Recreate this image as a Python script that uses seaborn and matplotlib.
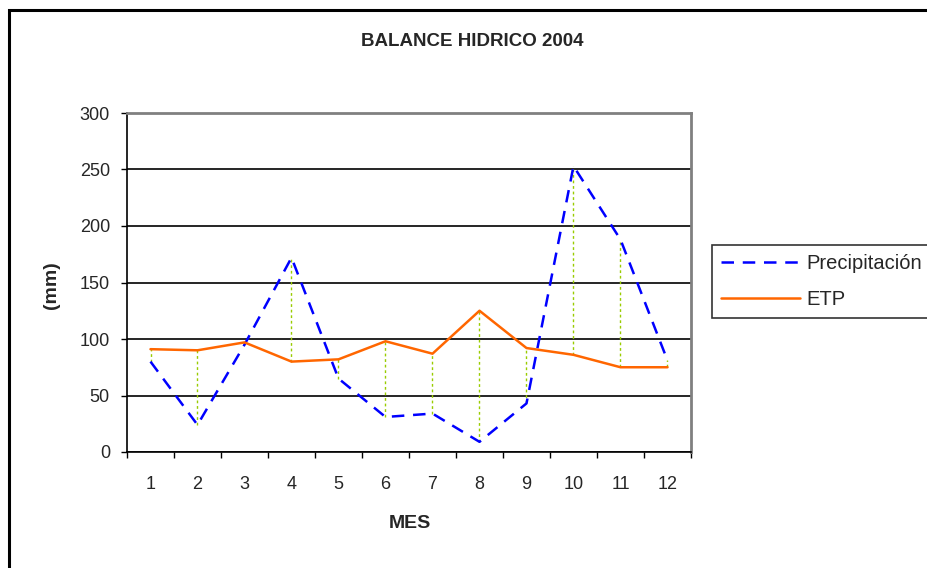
import pandas as pd
import matplotlib
matplotlib.use("Agg")
import matplotlib.pyplot as plt
import seaborn as sns
from matplotlib.lines import Line2D

# Datos
meses = [1, 2, 3, 4, 5, 6, 7, 8, 9, 10, 11, 12]
precipitacion = [80, 24, 95, 172, 65, 31, 34, 9, 43, 253, 188, 81]
etp = [91, 90, 97, 80, 82, 98, 87, 125, 92, 86, 75, 75]
y_ticks = [0, 50, 100, 150, 200, 250, 300]

df = pd.DataFrame({"MES": meses, "Precipitación": precipitacion, "ETP": etp})

sns.set_style("white")
plt.rcParams["font.family"] = ["Liberation Sans", "DejaVu Sans"]

fig = plt.figure(figsize=(9.28, 5.68), dpi=100)
ax = fig.add_axes([127 / 928, 1 - 452 / 568, 564 / 928, 339 / 568])

# lineas de union entre series (high-low)
ax.vlines(df["MES"], df[["Precipitación", "ETP"]].min(axis=1),
          df[["Precipitación", "ETP"]].max(axis=1),
          colors="#99CC00", linestyles=(0, (2, 2)), linewidth=1, zorder=2)

sns.lineplot(data=df, x="MES", y="Precipitación", ax=ax, color="#0000FF",
             linewidth=1.8, dashes=False, zorder=3)
ax.lines[-1].set_dashes((5, 3.5))
sns.lineplot(data=df, x="MES", y="ETP", ax=ax, color="#FF6600",
             linewidth=1.8, zorder=4)

ax.set_xlim(0.5, 12.5)
ax.set_ylim(0, 300)
ax.set_yticks(y_ticks)
ax.set_yticklabels([str(v) for v in y_ticks], fontsize=13)
ax.yaxis.grid(True, color="black", linewidth=1.2)
ax.set_axisbelow(True)

# ticks en los limites de categoria, etiquetas centradas
ax.set_xticks([m - 0.5 for m in meses] + [12.5])
ax.set_xticklabels([])
ax.set_xticks(meses, minor=True)
ax.set_xticklabels([str(m) for m in meses], minor=True, fontsize=13)
ax.tick_params(axis="x", which="major", direction="out", length=4.3, width=1,
               color="black", bottom=True)
ax.tick_params(axis="x", which="minor", length=0, pad=17)
ax.tick_params(axis="y", direction="out", length=4.3, width=1, color="black",
               left=True, pad=8)

for side in ["top", "right"]:
    ax.spines[side].set_color("#808080")
    ax.spines[side].set_linewidth(2)
for side in ["left", "bottom"]:
    ax.spines[side].set_color("black")
    ax.spines[side].set_linewidth(1.2)

ax.set_xlabel("")
ax.set_ylabel("")
fig.text(410 / 928, 1 - 523 / 568, "MES", ha="center", va="center",
         fontsize=14, fontweight="bold")
fig.text(52 / 928, 1 - 285 / 568, "(mm)", ha="center", va="center",
         rotation=90, fontsize=14, fontweight="bold")
fig.text(472 / 928, 1 - 42 / 568, "BALANCE HIDRICO 2004", ha="center",
         va="center", fontsize=13.5, fontweight="bold")

handles = [Line2D([], [], color="#0000FF", linewidth=1.8, dashes=(5, 3.5)),
           Line2D([], [], color="#FF6600", linewidth=1.8)]
leg = fig.legend(handles, ["Precipitación", "ETP"], loc="upper left",
                 bbox_to_anchor=(712 / 928, 1 - 245 / 568), fontsize=14.5,
                 frameon=True, fancybox=False, edgecolor="black",
                 handlelength=3.9, handletextpad=0.35, labelspacing=0.85,
                 borderpad=0.45, borderaxespad=0)
leg.get_frame().set_linewidth(1.2)

# borde exterior del grafico
fig.patches.append(plt.Rectangle((9 / 928, -0.1), 1.2, 1.1 - 10 / 568,
                                 transform=fig.transFigure, fill=False,
                                 edgecolor="black", linewidth=2.2))

fig.savefig("out.png", dpi=100)
